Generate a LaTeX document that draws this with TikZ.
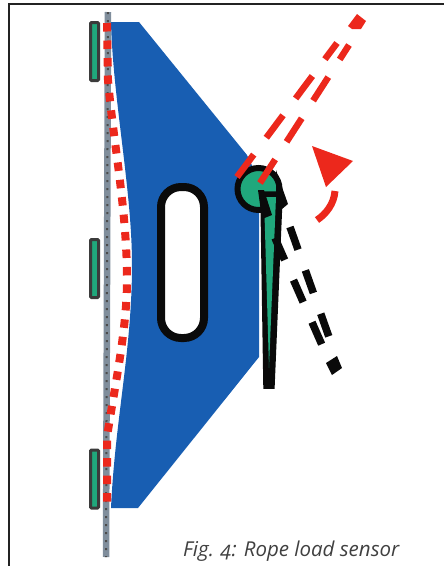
\documentclass[tikz,border=0pt]{standalone}
\usepackage{xcolor}
\usepackage{fontspec}
\usepackage{tikz}
\usetikzlibrary{arrows.meta,calc}
\newfontfamily\captionfont[Numbers=OldStyle]{Open Sans}
\definecolor{framecol}{RGB}{35,35,35}
\definecolor{sheavecol}{RGB}{24,94,178}
\definecolor{padcol}{RGB}{32,168,124}
\definecolor{ropecol}{RGB}{128,142,156}
\definecolor{deflectcol}{RGB}{236,40,28}
\definecolor{lineblack}{RGB}{10,10,10}
\tikzset{
  frameline/.style={draw=framecol,line width=1.5pt},
  pad/.style={draw=lineblack!80,fill=padcol,line width=3pt,rounded corners=1pt},
  rope/.style={draw=ropecol,line width=6.5pt},
  ropedots/.style={draw=black!70,line width=2pt,dash pattern=on 2pt off 6pt},
  sag/.style={draw=deflectcol,line width=8pt,dash pattern=on 8.5pt off 9pt},
  swingred/.style={draw=deflectcol,line width=6.5pt,dash pattern=on 28pt off 21pt},
  swingblack/.style={draw=lineblack,line width=7.5pt,dash pattern=on 24pt off 22pt},
  lever/.style={draw=lineblack,fill=padcol,line width=7.5pt,line join=miter},
  slot/.style={draw=lineblack,fill=white,line width=8pt,rounded corners=20pt},
  figcaption/.style={font=\captionfont\itshape\fontsize{20.5}{24}\selectfont,text=black!75,inner sep=0pt}
}
\begin{document}
\begin{tikzpicture}[x=1pt,y=-1pt]
  \useasboundingbox (0,0) rectangle (444,566);
  \draw[frameline] (9,566) -- (9,4) -- (444,4);
  % rope and wall pads
  \draw[rope] (108,12) -- (106,557);
  \draw[ropedots] (108,12) -- (106,557);
  \draw[pad] (90.5,22.5) rectangle (98.5,80.5);
  \draw[pad] (90.5,239.5) rectangle (98.5,297.5);
  \draw[pad] (90.5,450) rectangle (98.5,508);
  % sheave body
  \fill[sheavecol] (111,22) -- (139,22) -- (247,155) -- (259,180) -- (259,357) -- (138,508) -- (111,508)
    .. controls (115,420) and (132,350) .. (132,265)
    .. controls (132,190) and (113,100) .. (111,22) -- cycle;
  \draw[slot] (161,187) rectangle (204,338);
  \draw[sag] (107,23) -- (108,80)
    .. controls (113,140) and (127,210) .. (127,280)
    .. controls (127,330) and (114,390) .. (107,437) -- (107,505);
  % sensor
  \draw[draw=lineblack,fill=padcol,line width=6pt] (258.5,189) circle (21pt);
  \fill[lineblack] (276,170) -- (288,204) -- (276,214) -- cycle;
  \draw[lever] (264,195) -- (279,195) -- (271,385) -- (267,385) -- cycle;
  \fill[padcol] (264,197) -- (276,197) -- (269,368) -- cycle;
  \fill[lineblack] (258,190) -- (264,190) -- (272,215) -- (262,219) -- cycle;
  % deflected positions
  \draw[swingblack] (275,238) -- (322,345);
  \draw[swingblack] (290,227) -- (329,337);
  \fill[lineblack] (326,363) -- (337,356) -- (342,368) -- (332,375) -- cycle;
  \draw[swingred] (237,177) -- (337,43);
  \draw[swingred] (260,183) -- (349,45);
  \fill[deflectcol] (348,26) -- (357,14) -- (366,21) -- (361,29) -- (352,29) -- cycle;
  \fill[deflectcol] (312,146) -- (353,161) -- (326,187) -- cycle;
  \draw[draw=deflectcol,line width=7pt] (335,191) .. controls (334,204) and (326,214) .. (317,220);
  \node[figcaption,anchor=base west] (caption) at (183,556) {Fig. 4: Rope load sensor};
\end{tikzpicture}
\end{document}
